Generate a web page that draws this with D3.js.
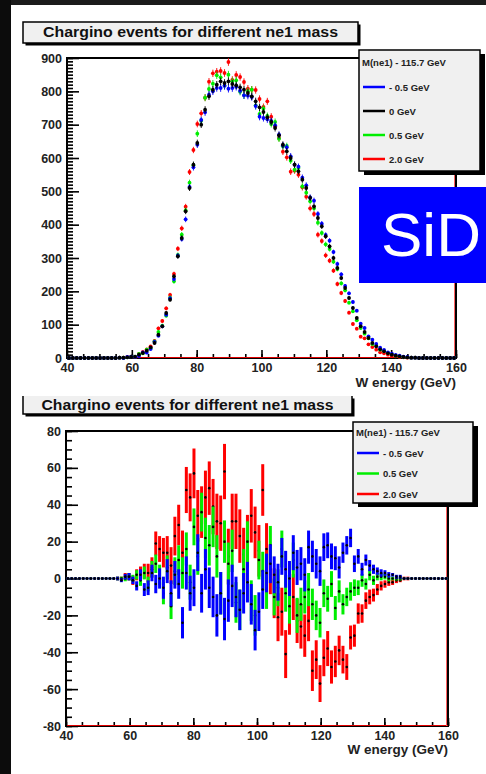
<!DOCTYPE html>
<html>
<head>
<meta charset="utf-8">
<script src="https://cdn.jsdelivr.net/npm/d3@7"></script>
<style>
  body { margin: 0; background: #161616; }
  svg { display: block; }
</style>
</head>
<body>
<svg id="chart" width="486" height="774"></svg>
<script>
// Histogram binning: 100 bins from 40 to 160 GeV
const binLow = 40, binWidth = 1.2;

// Top plot: events per bin for each ne1 mass shift
const black0 = [
  0,0,0,0,0,0,0,0,0,0,0,0,0, 1,1,2,3,4,10,15,
  22,32,45,70,95,135,175,245,305,360,
  440,510,580,645,700,745,785,805,820,830,
  825,830,822,818,812,805,795,785,770,752,
  738,722,708,690,668,640,620,600,580,560,
  535,510,480,455,420,395,365,335,300,270,
  240,210,180,150,120,95,78,60,45,35,
  26,20,14,10,7,5,3,2,1,1,
  0,0,0,0,0,0,0,0,0,0
];
const blueM05 = [
  0,0,0,0,0,0,0,0,0,0,0,0,0, 1,0,3,4,3,6,17,
  16,27,48,67,95,130,179,237,307,357,
  416,513,572,640,714,737,790,800,810,810,
  817,808,810,814,802,788,787,783,756,724,
  720,716,711,698,670,638,632,605,580,574,
  541,518,482,472,432,403,369,352,318,282,
  251,216,194,168,142,103,90,65,55,42,
  31,24,17,13,9,7,4,3,1,1,
  0,0,0,0,0,0,0,0,0,0
];
const green05 = [
  0,0,0,0,0,0,0,0,0,0,0,0,0, 1,1,2,4,4,12,14,
  25,29,50,78,97,127,181,230,309,370,
  443,526,578,673,712,781,807,823,848,842,
  817,850,830,833,799,788,800,805,758,732,
  748,726,702,708,658,635,636,592,565,570,
  515,496,470,449,406,375,341,327,289,267,
  224,203,166,140,113,90,73,59,42,37,
  25,21,15,11,7,5,3,2,1,1,
  0,0,0,0,0,0,0,0,0,0
];
const red20 = [
  0,0,0,0,0,0,0,0,0,0,0,0,0, 1,1,3,4,3,12,18,
  26,35,51,89,111,149,189,252,328,389,
  454,558,624,702,734,781,829,854,859,861,
  855,888,834,849,843,828,808,805,804,777,
  753,770,724,695,660,619,602,559,562,550,
  512,484,449,432,370,351,308,292,262,222,
  195,171,136,102,88,64,59,41,33,25,
  17,14,10,7,5,3,2,1,1,1,
  0,0,0,0,0,0,0,0,0,0
];

// Bottom plot: difference to the 0 GeV sample
const diffBlue = [
  0,0,0,0,0,0,0,0,0,0,0,0,0, 0,-1,1,1,-1,-4,2,
  -6,-5,3,-3,0,-5,4,-8,2,-3,
  -24,3,-8,-5,14,-8,5,-5,-10,-20,
  -8,-22,-12,-4,-10,-17,-8,-2,-14,-28,
  -18,-6,3,8,2,-2,12,5,0,14,
  6,8,2,17,12,8,4,17,18,12,
  11,6,14,18,22,8,12,5,10,7,
  5,4,3,3,2,2,1,1,0,0,
  0,0,0,0,0,0,0,0,0,0
];
const diffGreen = [
  0,0,0,0,0,0,0,0,0,0,0,0,0, 0,0,0,1,0,2,-1,
  3,-3,5,8,2,-8,6,-15,4,10,
  3,16,-2,28,12,36,22,18,28,12,
  -8,20,8,15,-13,-17,5,20,-12,-20,
  10,4,-6,18,-10,-5,16,-8,-15,10,
  -20,-14,-10,-6,-14,-20,-24,-8,-11,-3,
  -16,-7,-14,-10,-7,-5,-5,-1,-3,2,
  -1,1,1,1,0,0,0,0,0,0,
  0,0,0,0,0,0,0,0,0,0
];
const diffRed = [
  0,0,0,0,0,0,0,0,0,0,0,0,0, 0,0,1,1,-1,2,3,
  4,3,6,19,16,14,14,7,23,29,
  14,48,44,57,34,36,44,49,39,31,
  30,58,12,31,31,23,13,20,34,25,
  15,48,16,5,-8,-21,-18,-41,-18,-10,
  -23,-26,-31,-23,-50,-44,-57,-43,-38,-48,
  -45,-39,-44,-48,-32,-31,-19,-19,-12,-10,
  -9,-6,-4,-3,-2,-2,-1,-1,0,0,
  0,0,0,0,0,0,0,0,0,0
];
// error bar half lengths (blue/green share one, red is wider)
const errBG = [
  0.5,0.5,0.5,0.5,0.5,0.5,0.5,0.5,0.5,0.5,0.5,0.5,0.5, 1,1,1.5,2,2,2.5,3,
  3.5,4,4.5,5,5.5,6,6.5,7,7.5,8,
  8.5,9,9.5,10,10,10.5,11,11,11,11.5,
  11.5,11.5,11.5,11.5,11,11,11,11,11,11,
  10.5,10.5,10.5,10.5,10,10,10,10,9.5,9.5,
  9.5,9,9,9,8.5,8,8,7.5,7,7,
  6.5,6,5.5,5,5,4.5,4,3.5,3,3,
  2.5,2,2,1.5,1.5,1,1,1,0.5,0.5,
  0.5,0.5,0.5,0.5,0.5,0.5,0.5,0.5,0.5,0.5
];
const errRed = [
  0.5,0.5,0.5,0.5,0.5,0.5,0.5,0.5,0.5,0.5,0.5,0.5,0.5, 1,1,2,2,2.5,3,3.5,
  4,5,5.5,6.5,7,8,9,10,10.5,11,
  12,12.5,13,13.5,14,14,14.5,14.5,15,15,
  15,15,15,15,15,14.5,14.5,14.5,14.5,14,
  14,14,14,13.5,13.5,13,13,13,12.5,12.5,
  12,12,11.5,11,11,10.5,10,10,9.5,9,
  8.5,8,7.5,7,6.5,6,5.5,5,4.5,4,
  3.5,3,2.5,2,2,1.5,1.5,1,1,1,
  0.5,0.5,0.5,0.5,0.5,0.5,0.5,0.5,0.5,0.5
];

const titleText = "Chargino events for different ne1 mass";
const legendHeader = "M(ne1) - 115.7 GeV";
const xLabel = "W energy (GeV)";
const topLegend = [["- 0.5 GeV", "#0000ff"], ["0 GeV", "#000000"], ["0.5 GeV", "#00ee00"], ["2.0 GeV", "#ff0000"]];
const botLegend = [["- 0.5 GeV", "#0000ff"], ["0.5 GeV", "#00ee00"], ["2.0 GeV", "#ff0000"]];

const energy = black0.map((_, i) => binLow + binWidth * (i + 0.5));
const FONT = "'Liberation Sans', Arial, Helvetica, sans-serif";

const svg = d3.select("#chart");

// dark surround and white slide area
svg.append("rect").attr("width", 486).attr("height", 774).attr("fill", "#1b1b1b");
svg.append("rect").attr("x", 0).attr("y", 0).attr("width", 11).attr("height", 774).attr("fill", "#0c0c0c");
svg.append("rect").attr("x", 11).attr("y", 5).attr("width", 475).attr("height", 769).attr("fill", "#ffffff");

// ROOT-like axes: ticks inside the frame, plain hyphen for negatives
function drawAxes(x, y, yMinorStep, box) {
  const [x0, x1] = x.range();
  const [y0, y1] = y.range();
  const g = svg.append("g");
  const fmt = d => String(d);

  const yMinor = d3.range(y.domain()[0], y.domain()[1] + 0.001, yMinorStep);
  g.append("g").attr("transform", `translate(${x0},0)`)
    .call(d3.axisLeft(y).tickValues(yMinor).tickSize(-6).tickFormat(""));
  g.append("g").attr("transform", `translate(${x0},0)`)
    .call(d3.axisLeft(y).ticks(8).tickSize(-12).tickPadding(5).tickFormat(fmt));

  const xMinor = d3.range(40, 160.001, 5);
  g.append("g").attr("transform", `translate(0,${y0})`)
    .call(d3.axisBottom(x).tickValues(xMinor).tickSize(-4).tickFormat(""));
  g.append("g").attr("transform", `translate(0,${y0})`)
    .call(d3.axisBottom(x).tickValues(d3.range(40, 161, 20)).tickSize(-8).tickPadding(5).tickFormat(fmt));

  g.selectAll(".domain").remove();
  g.selectAll(".tick line").attr("stroke", "#000").attr("stroke-width", 1.6);
  g.selectAll(".tick text")
    .attr("font-family", FONT).attr("font-size", 12.5).attr("font-weight", "bold").attr("fill", "#222");

  // frame
  g.append("rect").attr("x", x0).attr("y", y1).attr("width", x1 - x0).attr("height", y0 - y1)
    .attr("fill", "none").attr("stroke", "#000").attr("stroke-width", 2);
  g.append("line").attr("x1", x0 + 1).attr("x2", x1).attr("y1", y0 - 0.5).attr("y2", y0 - 0.5)
    .attr("stroke", "#e00000").attr("stroke-width", 1);
  g.append("line").attr("x1", x1 - 1.5).attr("x2", x1 - 1.5).attr("y1", y1).attr("y2", y0)
    .attr("stroke", "#ff6060").attr("stroke-width", 1);

  g.append("text").attr("x", x1).attr("y", box.labelY).attr("text-anchor", "end")
    .attr("font-family", FONT).attr("font-size", 13.5).attr("font-weight", "bold").attr("fill", "#222")
    .text(xLabel);
}

function titleBox(x0, y0, x1, y1, baseY, textW, openTop) {
  svg.append("rect").attr("x", x0 + 2.5).attr("y", y0 + 2.5).attr("width", x1 - x0).attr("height", y1 - y0).attr("fill", "#000");
  svg.append("rect").attr("x", x0).attr("y", y0).attr("width", x1 - x0).attr("height", y1 - y0).attr("fill", "#f0f0f0");
  const border = openTop ? `M${x0},${y0}V${y1}H${x1}V${y0}` : `M${x0},${y0}V${y1}H${x1}V${y0}Z`;
  svg.append("path").attr("d", border).attr("fill", "none").attr("stroke", "#000").attr("stroke-width", 1.5);
  svg.append("text").attr("x", (x0 + x1) / 2 - textW / 2).attr("y", baseY)
    .attr("textLength", textW).attr("lengthAdjust", "spacingAndGlyphs")
    .attr("font-family", FONT).attr("font-size", 14.5).attr("font-weight", "bold").attr("fill", "#111")
    .text(titleText);
}

function legendBox(x0, y0, x1, y1, headerY, entries, firstY, step) {
  svg.append("rect").attr("x", x0 + 5).attr("y", y0 + 4).attr("width", x1 - x0).attr("height", y1 - y0).attr("fill", "#000");
  svg.append("rect").attr("x", x0).attr("y", y0).attr("width", x1 - x0).attr("height", y1 - y0)
    .attr("fill", "#f0f0f0").attr("stroke", "#000").attr("stroke-width", 1.5);
  const t = { "font-family": FONT, "font-size": 9.5, "font-weight": "bold", "fill": "#222" };
  const h = svg.append("text").attr("x", x0 + 3).attr("y", headerY).text(legendHeader);
  Object.entries(t).forEach(([k, v]) => h.attr(k, v));
  entries.forEach(([label, col], i) => {
    const yy = firstY + i * step;
    svg.append("line").attr("x1", x0 + 4).attr("x2", x0 + 26).attr("y1", yy).attr("y2", yy)
      .attr("stroke", col).attr("stroke-width", 2.5);
    const tx = svg.append("text").attr("x", x0 + 30).attr("y", yy + 3.5).text(label);
    Object.entries(t).forEach(([k, v]) => tx.attr(k, v));
  });
}

// ---------- top plot ----------
const xTop = d3.scaleLinear().domain([40, 160]).range([67, 456]);
const yTop = d3.scaleLinear().domain([0, 900]).range([358, 58]);

titleBox(23, 22, 358, 43, 37, 295, false);
drawAxes(xTop, yTop, 10, { labelY: 387 });

const topSeries = [[red20, "#ff0000"], [green05, "#00ee00"], [blueM05, "#0000ff"], [black0, "#000000"]];
const topG = svg.append("g");
topSeries.forEach(([vals, col]) => {
  const s = topG.append("g");
  s.selectAll("line").data(vals).join("line")
    .attr("x1", (d, i) => xTop(energy[i])).attr("x2", (d, i) => xTop(energy[i]))
    .attr("y1", (d, i) => yTop(Math.max(0, d - errBG[i]))).attr("y2", (d, i) => yTop(d + errBG[i]))
    .attr("stroke", col).attr("stroke-width", 0.9);
  s.selectAll("circle").data(vals).join("circle")
    .attr("cx", (d, i) => xTop(energy[i])).attr("cy", d => yTop(d))
    .attr("r", 1.9).attr("fill", col);
});

legendBox(359, 50, 480, 171, 66, topLegend, 87, 24);

// SiD logo box
svg.append("rect").attr("x", 359).attr("y", 187).attr("width", 127).attr("height", 96).attr("fill", "#0000ff");
svg.append("text").attr("x", 381).attr("y", 256).attr("font-family", FONT).attr("font-size", 62)
  .attr("fill", "#fff").text("SiD");

// ---------- bottom plot ----------
const xBot = d3.scaleLinear().domain([40, 160]).range([66, 448]);
const yBot = d3.scaleLinear().domain([-80, 80]).range([726, 431]);

titleBox(23, 396, 352, 414, 410, 292, true);
drawAxes(xBot, yBot, 5, { labelY: 754 });

const diffSeries = [[diffRed, errRed, "#ff0000"], [diffGreen, errBG, "#00ee00"], [diffBlue, errBG, "#0000ff"]];
const botG = svg.append("g");
diffSeries.forEach(([vals, errs, col]) => {
  const s = botG.append("g");
  s.selectAll("line").data(vals).join("line")
    .attr("x1", (d, i) => xBot(energy[i])).attr("x2", (d, i) => xBot(energy[i]))
    .attr("y1", (d, i) => yBot(d - errs[i])).attr("y2", (d, i) => yBot(d + errs[i]))
    .attr("stroke", col).attr("stroke-width", 3);
  s.selectAll("circle").data(vals).join("circle")
    .attr("cx", (d, i) => xBot(energy[i])).attr("cy", d => yBot(d))
    .attr("r", 1.3).attr("fill", "#000");
});

legendBox(353, 422, 473, 503, 436, botLegend, 453, 20.5);
</script>
</body>
</html>
